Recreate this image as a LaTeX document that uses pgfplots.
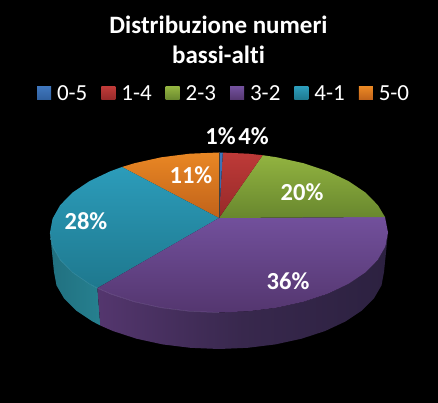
\documentclass[border=0pt]{standalone}
\usepackage{pgfplots}
\pgfplotsset{compat=1.18}
\usepackage{fontspec}
\setmainfont[Ligatures=NoCommon]{Carlito}
\definecolor{blueT}{HTML}{3F76BC}\definecolor{blueB}{HTML}{2F5F9E}
\definecolor{redT}{HTML}{BE3A38}\definecolor{redB}{HTML}{962929}
\definecolor{greenT}{HTML}{92B340}\definecolor{greenB}{HTML}{68872E}
\definecolor{purpT}{HTML}{72509C}\definecolor{purpB}{HTML}{54366F}
\definecolor{tealT}{HTML}{2C9CBA}\definecolor{tealB}{HTML}{1E788E}
\definecolor{orT}{HTML}{E98724}\definecolor{orB}{HTML}{C0621A}
\definecolor{sideTeal}{HTML}{217080}\definecolor{sideTealB}{HTML}{26808F}
\definecolor{sideA}{HTML}{54366E}\definecolor{sideB}{HTML}{38284D}\definecolor{sideC}{HTML}{2C2140}
\newcommand{\swatch}[2]{\addlegendimage{legend image code/.code={\path[top color=#1,bottom color=#2,draw=none] (0pt,-6.5pt) rectangle (14pt,6.5pt);}}}
\begin{document}
\begin{tikzpicture}
\begin{axis}[
    width=438pt, height=403pt, scale only axis,
    xmin=0, xmax=438, ymin=0, ymax=403, y dir=reverse,
    ticks=none, axis line style={draw=none},
    axis background/.style={fill=black},
    no markers, clip=false,
    legend columns=6,
    legend style={at={(axis cs:37,93.5)}, anchor=west, draw=none, fill=none,
        text=white, font=\fontsize{23}{23}\selectfont, inner sep=0pt, outer sep=0pt,
        /tikz/every odd column/.append style={column sep=4pt},
        /tikz/every even column/.append style={column sep=12pt}},
]
\swatch{blueT}{blueB}\addlegendentry{0-5}
\swatch{redT}{redB}\addlegendentry{1-4}
\swatch{greenT}{greenB}\addlegendentry{2-3}
\swatch{purpT}{purpB}\addlegendentry{3-2}
\swatch{tealT}{tealB}\addlegendentry{4-1}
\swatch{orT}{orB}\addlegendentry{5-0}
% sides
\addplot[forget plot, draw=none, left color=sideTeal, right color=sideTealB] coordinates {
 (50,232.5)(52.6,246.4)(60.2,259.9)(72.6,272.5)(89.5,283.9)(97.4,288.1)
 (100.3,325.5)(92.6,321.5)(76.1,310.5)(64,298.3)(56.5,285.4)(54,272)};
\addplot[forget plot, draw=none, left color=sideA, right color=sideC, middle color=sideB] coordinates {
 (97.4,288.1)(110.4,293.8)(134.5,301.8)(161.2,307.7)(189.7,311.3)(219,312.5)(248.3,311.3)
 (276.8,307.7)(303.5,301.8)(327.6,293.8)(348.5,283.9)(365.4,272.5)(377.8,259.9)(385.4,246.4)(388,232.5)
 (384,272)(381.5,285.4)(374,298.3)(361.9,310.5)(345.4,321.5)(325.1,331)(301.5,338.7)(275.4,344.4)
 (247.7,347.8)(219,349)(190.3,347.8)(162.6,344.4)(136.5,338.7)(112.9,331)(100.3,325.5)};
% top face
\addplot[forget plot, draw=none, top color=orT, bottom color=orB] coordinates {
 (219,218)(219,152.5)(189.7,153.7)(161.2,157.3)(134.5,163.2)(122,167)};
\addplot[forget plot, draw=none, top color=tealT, bottom color=tealB] coordinates {
 (219,218)(122,167)(110.4,171.2)(89.5,181.1)(72.6,192.5)(60.2,205.1)(52.6,218.6)(50,232.5)
 (52.6,246.4)(60.2,259.9)(72.6,272.5)(89.5,283.9)(97.4,288.1)};
\addplot[forget plot, draw=none, top color=purpT, bottom color=purpB] coordinates {
 (219,218)(97.4,288.1)(110.4,293.8)(134.5,301.8)(161.2,307.7)(189.7,311.3)(219,312.5)(248.3,311.3)
 (276.8,307.7)(303.5,301.8)(327.6,293.8)(348.5,283.9)(365.4,272.5)(377.8,259.9)(385.4,246.4)(388,232.5)(385,217)};
\addplot[forget plot, draw=none, top color=greenT, bottom color=greenB] coordinates {
 (219,218)(385,217)(377.8,205.1)(365.4,192.5)(348.5,181.1)(327.6,171.2)(303.5,163.2)(276.8,157.3)(262.7,155.2)};
\addplot[forget plot, draw=none, top color=redT, bottom color=redB] coordinates {
 (219,218)(262.7,155.2)(248.3,153.7)(222.8,152.6)};
\addplot[forget plot, draw=none, top color=blueT, bottom color=blueB] coordinates {
 (219,218)(222.8,152.6)(219,152.5)};
% thin dark line between orange and blue
\addplot[forget plot, draw=black!75, line width=0.5pt] coordinates {(219,218)(219,152.5)};
% light rim on the front edge
\addplot[forget plot, draw=purpT!80!white, line width=0.5pt, opacity=0.5] coordinates {
 (97.4,288.1)(110.4,293.8)(134.5,301.8)(161.2,307.7)(189.7,311.3)(219,312.5)};
\addplot[forget plot, draw=tealT!80!white, line width=0.5pt, opacity=0.5] coordinates {
 (50,232.5)(52.6,246.4)(60.2,259.9)(72.6,272.5)(89.5,283.9)(97.4,288.1)};
\node[text=white, font=\fontsize{25}{30}\selectfont\bfseries, align=center] at (axis cs:218.5,40) {Distribuzione numeri\\bassi-alti};
\begin{scope}[every node/.style={text=white, font=\fontsize{24.5}{24.5}\selectfont\bfseries, inner sep=0pt}]
\node at (axis cs:220.5,136) {1\%};
\node at (axis cs:253.5,136) {4\%};
\node at (axis cs:191,175) {11\%};
\node at (axis cs:302,192) {20\%};
\node at (axis cs:288,281) {36\%};
\node at (axis cs:86,221) {28\%};
\end{scope}
\end{axis}
\end{tikzpicture}
\end{document}
